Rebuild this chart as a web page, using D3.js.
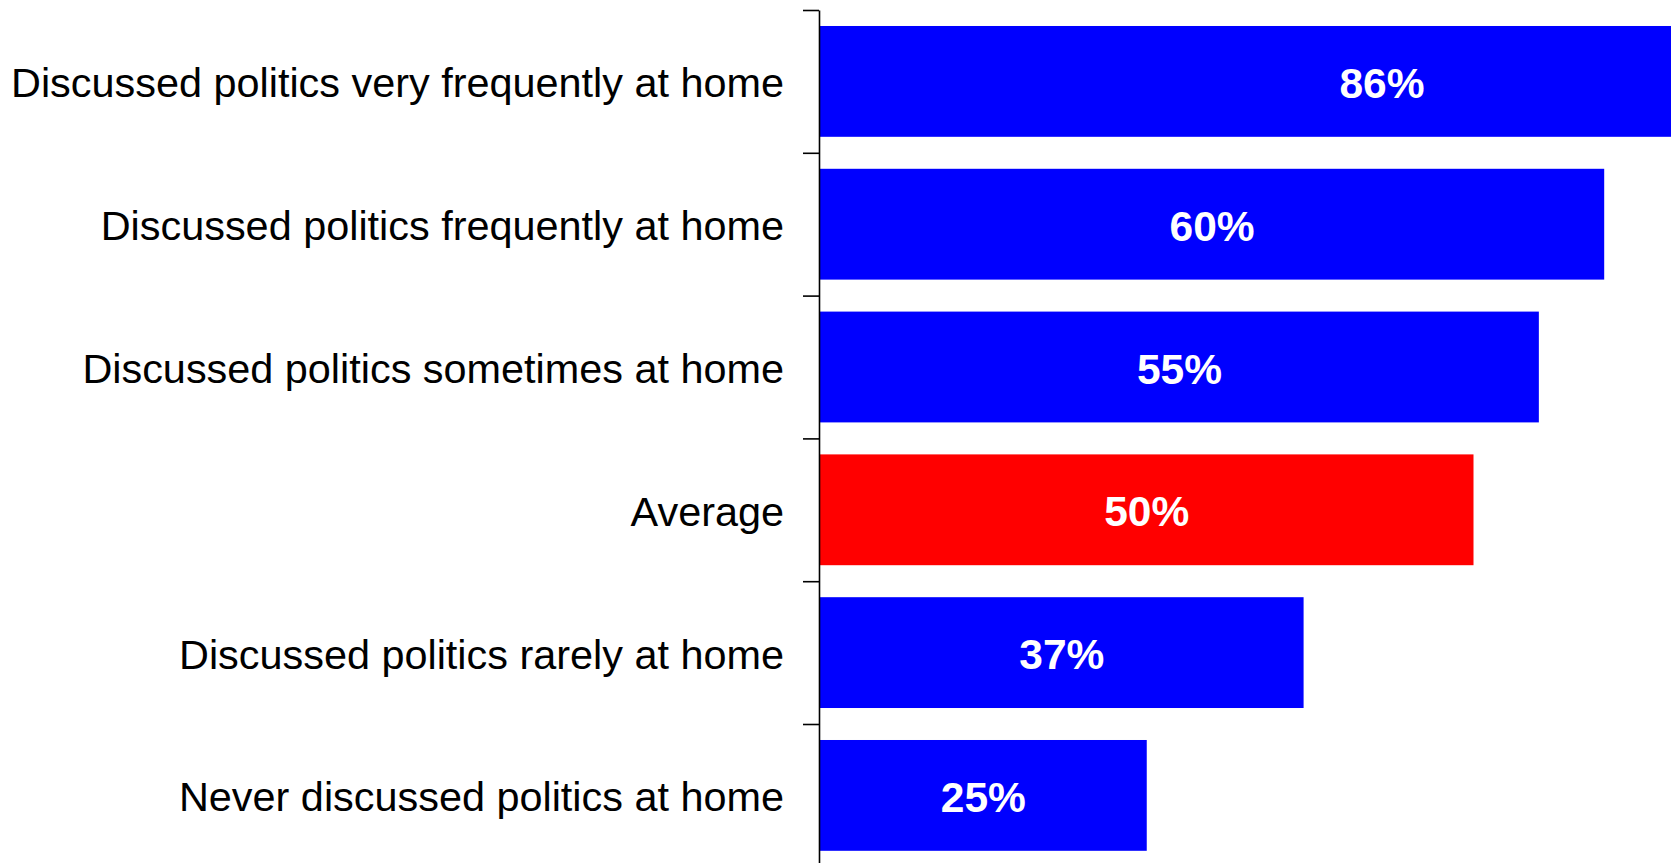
<!DOCTYPE html>
<html>
<head>
<meta charset="utf-8">
<script src="https://cdn.jsdelivr.net/npm/d3@7"></script>
<style>
  html, body { margin: 0; padding: 0; background: #fff; }
  svg { display: block; }
</style>
</head>
<body>
<svg id="chart" width="1671" height="863"></svg>
<script>
const categories = [
  "Discussed politics very frequently at home",
  "Discussed politics frequently at home",
  "Discussed politics sometimes at home",
  "Average",
  "Discussed politics rarely at home",
  "Never discussed politics at home"
];
const values = [86, 60, 55, 50, 37, 25];
const valueLabels = ["86%", "60%", "55%", "50%", "37%", "25%"];
const highlight = ["Average"];

const svg = d3.select("#chart");

const bandStep = 142.8;
const plotTop = 10;
const y = d3.scaleBand()
  .domain(categories)
  .range([plotTop, plotTop + bandStep * categories.length])
  .paddingInner(0.224)
  .paddingOuter(0.112);

const x = d3.scaleLinear().domain([0, 65]).range([820, 820 + 65 * 13.07]);

const yBound = d3.scaleLinear().domain([0, categories.length]).range([plotTop, plotTop + bandStep * categories.length]);

// bars
svg.append("g").selectAll("rect")
  .data(categories)
  .join("rect")
  .attr("x", x(0))
  .attr("y", d => y(d))
  .attr("width", (d, i) => x(values[i]) - x(0))
  .attr("height", y.bandwidth())
  .attr("fill", d => highlight.includes(d) ? "#ff0000" : "#0000ff");

// value labels
svg.append("g").selectAll("text")
  .data(categories)
  .join("text")
  .attr("x", (d, i) => (x(0) + x(values[i])) / 2)
  .attr("y", d => y(d) + y.bandwidth() / 2 + 16.5)
  .attr("text-anchor", "middle")
  .attr("font-family", "Liberation Sans, Arial, sans-serif")
  .attr("font-weight", "bold")
  .attr("font-size", 42.5)
  .attr("fill", "#ffffff")
  .text((d, i) => valueLabels[i]);

// axis
const axis = d3.axisLeft(yBound)
  .tickValues(d3.range(0, categories.length + 1))
  .tickFormat("")
  .tickSize(16)
  .tickSizeOuter(0);

const gAxis = svg.append("g")
  .attr("transform", "translate(819,0)")
  .call(axis);
gAxis.select(".domain").attr("stroke", "#000").attr("stroke-width", 1.6);
gAxis.selectAll(".tick line").attr("stroke", "#000").attr("stroke-width", 1.6);

// category labels
svg.append("g").selectAll("text")
  .data(categories)
  .join("text")
  .attr("x", 784)
  .attr("y", d => y(d) + y.bandwidth() / 2 + 16)
  .attr("text-anchor", "end")
  .attr("font-family", "Liberation Sans, Arial, sans-serif")
  .attr("font-size", 41.4)
  .attr("fill", "#000")
  .text(d => d);
</script>
</body>
</html>
